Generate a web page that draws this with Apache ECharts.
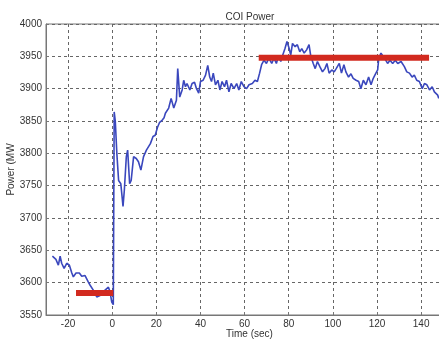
<!DOCTYPE html>
<html>
<head>
<meta charset="utf-8">
<script src="https://cdn.jsdelivr.net/npm/echarts@6/dist/echarts.min.js"></script>
<style>
  html, body { margin: 0; padding: 0; background: #fff; }
  #chart { width: 439px; height: 342px; }
</style>
</head>
<body>
<div id="chart"></div>
<script>
// blue trace: time (sec) and COI power (MW)
const timeSec = [
  -27.1, -25.5, -24.4, -23.6, -22.9, -21.8, -20.6, -19.4, -18.3, -17.6,
  -16.4, -14.9, -13.8, -12.3, -10.8, -10, -8.5, -7, -5.5, -4,
  -3.3, -1.7, -1, -0.2, 0.5, 0.9, 1.4, 2.1, 2.9, 3.9,
  4.9, 5.5, 6.4, 7.0, 7.9, 8.6, 9.7, 10.9, 11.9, 13.0,
  14.2, 15.5, 17.3, 18.5, 19.5, 20.5, 21.5, 22.6, 23.5, 24.1,
  25.6, 26.7, 27.9, 29.1, 29.7, 30.6, 31.7, 32.4, 33.2, 33.9,
  35.2, 36.2, 37.3, 38.2, 39.2, 40, 41.2, 42.3, 43.3, 44.2,
  45, 45.8, 46.8, 47.9, 48.8, 49.8, 50.9, 51.8, 52.9, 53.9,
  55.2, 56.4, 57.4, 58.5, 59.7, 60.9, 62, 63.5, 64.7, 65.8,
  66.8, 67.7, 68.8, 69.9, 71, 72.3, 73.3, 74.4, 75.3, 76.4,
  77.1, 78.3, 79.2, 80.2, 80.9, 81.7, 82.9, 83.9, 85, 85.9,
  87, 88.1, 89.2, 90, 91.1, 92, 93, 94.1, 95.3, 96.4,
  97.3, 98.3, 99.5, 100.6, 101.5, 102.9, 103.9, 105, 105.9, 107.1,
  108.2, 109.2, 110.5, 111.7, 112.7, 113.8, 115, 116.2, 117.3, 118.3,
  119.5, 120.3, 120.8, 121.8, 122.6, 123.6, 124.8, 125.9, 127.1, 128.3,
  129.4, 130.9, 132.4, 133.5, 134.7, 135.9, 136.9, 138, 139.2, 140.5,
  141.5, 142.6, 143.8, 145, 146, 147.5, 148
];
const powerMW = [
  3641, 3636, 3627, 3641, 3630, 3622, 3630, 3627, 3615, 3609,
  3615, 3615, 3610, 3611, 3601, 3596, 3588, 3578, 3580, 3586,
  3585, 3593, 3586, 3570, 3566, 3864, 3850, 3800, 3758, 3753,
  3718, 3743, 3795, 3805, 3753, 3758, 3795, 3792, 3787, 3774,
  3795, 3805, 3815, 3826, 3828, 3840, 3848, 3851, 3855, 3862,
  3870, 3885, 3870, 3882, 3931, 3887, 3898, 3913, 3903, 3908,
  3898, 3908, 3910, 3900, 3893, 3911, 3913, 3921, 3936, 3918,
  3911, 3924, 3906, 3913, 3898, 3911, 3903, 3913, 3895, 3908,
  3900, 3908, 3898, 3911, 3903, 3900, 3906, 3908, 3913, 3911,
  3924, 3937, 3944, 3939, 3947, 3939, 3947, 3939, 3950, 3942,
  3950, 3962, 3973, 3962, 3952, 3970, 3965, 3968, 3957, 3962,
  3955, 3960, 3968, 3950, 3939, 3931, 3942, 3934, 3926, 3931,
  3939, 3924, 3929, 3926, 3931, 3939, 3924, 3937, 3926, 3918,
  3923, 3916, 3913, 3911, 3900, 3913, 3906, 3918, 3906, 3916,
  3924, 3929, 3947, 3955, 3952, 3946, 3939, 3944, 3939, 3944,
  3939, 3942, 3934, 3926, 3924, 3918, 3921, 3913, 3911, 3900,
  3908, 3906, 3898, 3903, 3895, 3890, 3885
];
// red bars: pre-event and post-event averages
const preT = [-16.4, 0.5];
const preP = [3584, 3584];
const postT = [66.4, 143.6];
const postP = [3948, 3948];
// axis ticks
const xTicks = [-20, 0, 20, 40, 60, 80, 100, 120, 140];

const zip = (a, b) => a.map((v, i) => [v, b[i]]);

const chart = echarts.init(document.getElementById("chart"), null, { renderer: "canvas" });
const txt = "#333";
const frame = "#777";
const gridLine = { show: true, lineStyle: { color: "#666", type: [3, 3], width: 1 } };

chart.setOption({
  animation: false,
  backgroundColor: "#fff",
  textStyle: { fontFamily: "Liberation Sans, Arial, sans-serif" },
  title: {
    text: "COI Power",
    left: 245,
    textAlign: "center",
    top: 7,
    textStyle: { fontSize: 10, fontWeight: "normal", color: txt }
  },
  grid: {
    left: 46, right: -2, top: 24, bottom: 27,
    outerBoundsMode: "none",
    containLabel: false,
    show: true, borderColor: frame, borderWidth: 1
  },
  xAxis: {
    type: "value",
    min: -30,
    max: 149,
    name: "Time (sec)",
    nameLocation: "middle",
    nameGap: 14,
    nameMoveOverlap: false,
    nameTextStyle: { fontSize: 10, color: txt, padding: [0, 0, 0, 12] },
    axisLine: { show: true, onZero: false, lineStyle: { color: frame } },
    axisTick: { show: true, inside: true, length: 3, customValues: xTicks, lineStyle: { color: frame } },
    axisLabel: { customValues: xTicks, fontSize: 10, color: txt, margin: 4 },
    splitLine: gridLine
  },
  yAxis: {
    type: "value",
    min: 3550,
    max: 4000,
    interval: 50,
    name: "Power (MW",
    nameLocation: "middle",
    nameGap: 30,
    nameMoveOverlap: false,
    nameTextStyle: { fontSize: 10, color: txt },
    axisLine: { show: true, onZero: false, lineStyle: { color: frame } },
    axisTick: { show: true, inside: true, length: 3, lineStyle: { color: frame } },
    axisLabel: { fontSize: 10, color: txt, margin: 4, formatter: v => String(v) },
    splitLine: gridLine
  },
  series: [
    {
      type: "line",
      data: zip(timeSec, powerMW),
      showSymbol: false,
      lineStyle: { color: "#3a47bd", width: 1.6 },
      z: 2
    },
    {
      type: "line",
      data: zip(preT, preP),
      showSymbol: false,
      lineStyle: { color: "#d22a1f", width: 6, cap: "butt" },
      z: 3
    },
    {
      type: "line",
      data: zip(postT, postP),
      showSymbol: false,
      lineStyle: { color: "#d22a1f", width: 6, cap: "butt" },
      z: 3
    }
  ]
});
</script>
</body>
</html>
